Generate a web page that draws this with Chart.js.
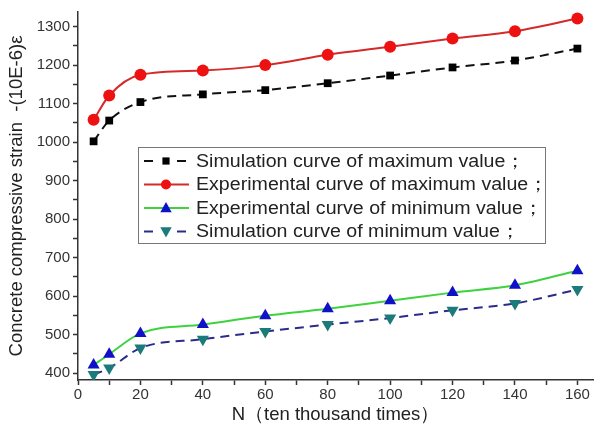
<!DOCTYPE html>
<html>
<head>
<meta charset="utf-8">
<script src="https://cdn.jsdelivr.net/npm/chart.js@4"></script>
<style>
  body { margin: 0; background: #fff; }
  #wrap { width: 600px; height: 430px; }
</style>
</head>
<body>
<div id="wrap"><canvas id="lineChart" width="600" height="430"></canvas></div>
<script>
const ciclos = [5, 10, 20, 40, 60, 80, 100, 120, 140, 160];
const simMax = [1002, 1056, 1104, 1124, 1135, 1153, 1173, 1194, 1212, 1243];
const expMax = [1058, 1121, 1175, 1186, 1200, 1227, 1248, 1269, 1288, 1321];
const expMin = [421, 449, 503, 526, 549, 567, 588, 609, 628, 666];
const simMin = [396, 413, 465, 488, 508, 526, 543, 563, 581, 617];
const nombres = [
  "Simulation curve of maximum value\uFF1B",
  "Experimental curve of maximum value\uFF1B",
  "Experimental curve of minimum value\uFF1B",
  "Simulation curve of minimum value\uFF1B"
];
// marcas de los ejes (cada 10 / cada 50, etiqueta cada 20 / cada 100)
const xTicks = [0, 10, 20, 30, 40, 50, 60, 70, 80, 90, 100, 110, 120, 130, 140, 150, 160];
const yTicks = [400, 450, 500, 550, 600, 650, 700, 750, 800, 850, 900, 950, 1000, 1050, 1100, 1150, 1200, 1250, 1300];

const toPts = (arr) => arr.map((v, i) => ({ x: ciclos[i], y: v }));

const series = [
  { label: nombres[0], data: toPts(simMax), borderColor: "#111", borderDash: [9, 6], pointStyle: "rect", pointRadius: 5.5, pointBg: "#000", rot: 0 },
  { label: nombres[1], data: toPts(expMax), borderColor: "#d42a2a", borderDash: [], pointStyle: "circle", pointRadius: 6, pointBg: "#ee1111", rot: 0 },
  { label: nombres[2], data: toPts(expMin), borderColor: "#3fd23f", borderDash: [], pointStyle: "triangle", pointRadius: 7, pointBg: "#1010c8", rot: 0 },
  { label: nombres[3], data: toPts(simMin), borderColor: "#2b2b8a", borderDash: [9, 6], pointStyle: "triangle", pointRadius: 7, pointBg: "#1b7b7b", rot: 180 }
];

function drawShape(ctx, s, x, y, r) {
  if (s.pointStyle === "rect") {
    ctx.rect(x - r * 0.8, y - r * 0.8, r * 1.6, r * 1.6);
  } else if (s.pointStyle === "circle") {
    ctx.arc(x, y, r, 0, Math.PI * 2);
  } else {
    const d = s.rot ? -1 : 1;
    ctx.moveTo(x, y - d * r);
    ctx.lineTo(x + r * 0.95, y + d * r * 0.7);
    ctx.lineTo(x - r * 0.95, y + d * r * 0.7);
    ctx.closePath();
  }
}

// leyenda dibujada a mano: linea + marcador + texto
const leyenda = {
  id: "leyenda",
  afterDraw(chart) {
    const ctx = chart.ctx;
    const bx = 138, by = 147, bw = 407, bh = 96;
    ctx.save();
    ctx.fillStyle = "#fff";
    ctx.fillRect(bx, by, bw, bh);
    ctx.strokeStyle = "#777";
    ctx.lineWidth = 1;
    ctx.strokeRect(bx + 0.5, by + 0.5, bw, bh);
    series.forEach((s, i) => {
      const y = by + 14 + i * 23.5;
      ctx.strokeStyle = s.borderColor;
      ctx.lineWidth = 2;
      if (s.borderDash.length) {
        ctx.beginPath(); ctx.moveTo(144, y); ctx.lineTo(153, y); ctx.stroke();
        ctx.beginPath(); ctx.moveTo(177, y); ctx.lineTo(186, y); ctx.stroke();
      } else {
        ctx.beginPath(); ctx.moveTo(144, y); ctx.lineTo(189, y); ctx.stroke();
      }
      ctx.fillStyle = s.pointBg;
      ctx.beginPath();
      drawShape(ctx, s, 166, y, s.pointRadius - 1);
      ctx.fill();
      // el texto del original sale algo ensanchado
      ctx.save();
      ctx.translate(196, y + 1);
      ctx.scale(1.12, 1);
      ctx.fillStyle = "#222";
      ctx.font = "17.5px 'Liberation Sans', Arial, sans-serif";
      ctx.textBaseline = "middle";
      ctx.fillText(s.label, 0, 0);
      ctx.restore();
    });
    ctx.restore();
  }
};

const ejeFuente = { family: "'Liberation Sans', Arial, sans-serif", size: 15 };
const tituloFuente = { family: "'Liberation Sans', Arial, sans-serif", size: 18.5 };

const lChart = document.getElementById("lineChart").getContext("2d");
const lineChart = new Chart(lChart, {
  type: "line",
  data: {
    datasets: series.map((s) => ({
      label: s.label,
      data: s.data,
      borderColor: s.borderColor,
      borderWidth: 2,
      borderDash: s.borderDash,
      cubicInterpolationMode: "monotone",
      pointStyle: s.pointStyle,
      pointRadius: s.pointRadius,
      pointRotation: s.rot,
      pointBackgroundColor: s.pointBg,
      pointBorderColor: s.pointBg,
      pointBorderWidth: 0,
      fill: false
    }))
  },
  options: {
    responsive: false,
    animation: false,
    layout: { padding: { top: 5, right: 2, left: 0, bottom: 0 } },
    plugins: {
      legend: { display: false },
      tooltip: { enabled: false }
    },
    scales: {
      x: {
        type: "linear",
        min: 0,
        max: 165,
        afterFit(scale) { scale.height = 50; },
        afterBuildTicks(scale) {
          scale.ticks = xTicks.map((v) => ({ value: v }));
        },
        ticks: {
          autoSkip: false,
          maxRotation: 0,
          color: "#333",
          font: ejeFuente,
          padding: 1,
          callback: (v) => (v % 20 === 0 ? v : "")
        },
        grid: { drawOnChartArea: false, drawTicks: true, tickLength: 5, tickColor: "#333", tickWidth: 1.5 },
        border: { color: "#333", width: 1.5 },
        title: {
          display: true,
          text: "N\uFF08ten thousand times\uFF09",
          color: "#222",
          font: tituloFuente,
          padding: { top: 0 }
        }
      },
      y: {
        min: 382,
        max: 1338,
        afterFit(scale) { scale.width = 78; },
        afterBuildTicks(scale) {
          scale.ticks = yTicks.map((v) => ({ value: v }));
        },
        ticks: {
          autoSkip: false,
          color: "#333",
          font: ejeFuente,
          padding: 3,
          callback: (v) => (v % 100 === 0 ? v : "")
        },
        grid: { drawOnChartArea: false, drawTicks: true, tickLength: 5, tickColor: "#333", tickWidth: 1.5 },
        border: { color: "#333", width: 1.5 },
        title: {
          display: true,
          text: "Concrete compressive strain  -(10E-6)\u03B5",
          color: "#222",
          font: tituloFuente,
          padding: { top: 6, bottom: 0 }
        }
      }
    }
  },
  plugins: [leyenda]
});
</script>
</body>
</html>
